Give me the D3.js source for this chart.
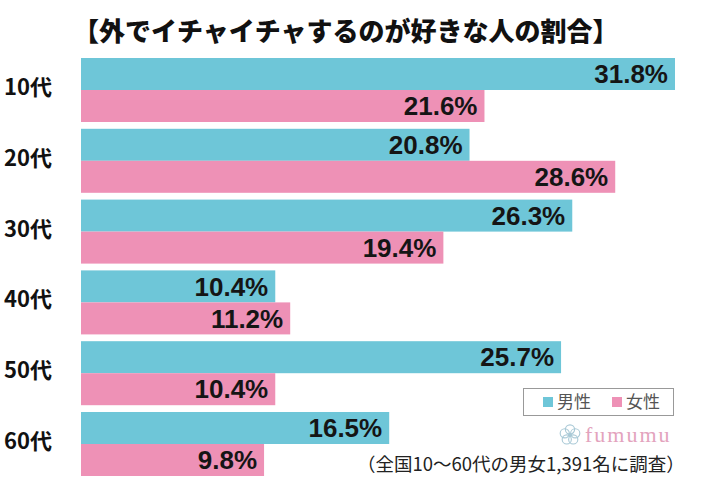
<!DOCTYPE html>
<html><head><meta charset="utf-8">
<script src="https://cdn.jsdelivr.net/npm/d3@7"></script>
<style>html,body{margin:0;padding:0;background:#fff;}svg{display:block;}</style>
</head><body>
<script>
const categories = ["10代","20代","30代","40代","50代","60代"];
const male = [31.8, 20.8, 26.3, 10.4, 25.7, 16.5];
const female = [21.6, 28.6, 19.4, 11.2, 10.4, 9.8];
const seriesNames = ["男性","女性"];
const title = "【外でイチャイチャするのが好きな人の割合】";
const note = "（全国10〜60代の男女1,391名に調査）";
const colors = ["#6EC6D8", "#EE91B6"];

const W = 701, H = 500;
const svg = d3.select("body").append("svg").attr("width", W).attr("height", H);

const x = d3.scaleLinear().domain([0, 31.8]).range([81, 675]);
const y = d3.scaleBand().domain(categories).range([54.6, 479.4]).paddingInner(0.096).paddingOuter(0.048);
const sub = d3.scaleBand().domain(seriesNames).range([0, y.bandwidth()]);

const jp = "'Noto Sans CJK JP','Noto Sans CJK SC',sans-serif";

svg.append("text").attr("x", 73).attr("y", 41)
  .attr("font-family", jp).attr("font-weight", 900).attr("font-size", 26)
  .attr("fill", "#111").text(title);

const rows = categories.map((c, i) => ({c, vals: [male[i], female[i]]}));
const g = svg.selectAll("g.row").data(rows).join("g").attr("class", "row")
  .attr("transform", d => `translate(0,${y(d.c)})`);

g.selectAll("rect").data(d => d.vals.map((v, j) => ({v, s: seriesNames[j], j})))
  .join("rect")
  .attr("x", x(0)).attr("y", d => sub(d.s))
  .attr("width", d => x(d.v) - x(0)).attr("height", sub.bandwidth())
  .attr("fill", d => colors[d.j]);

g.selectAll("text.val").data(d => d.vals.map((v, j) => ({v, s: seriesNames[j], j})))
  .join("text").attr("class", "val")
  .attr("x", d => x(d.v) - 7)
  .attr("y", d => sub(d.s) + sub.bandwidth() / 2 + 9.3)
  .attr("text-anchor", "end")
  .attr("font-family", "'Liberation Sans',Arial,sans-serif")
  .attr("font-weight", "bold").attr("font-size", 26)
  .attr("fill", "#151515")
  .text(d => d.v.toFixed(1) + "%");

g.append("text").attr("x", 4).attr("y", y.bandwidth() / 2 - 3 + 8)
  .attr("font-family", jp).attr("font-weight", "bold").attr("font-size", 22)
  .attr("fill", "#111").text(d => d.c);

// legend
const lg = svg.append("g");
lg.append("rect").attr("x", 523.5).attr("y", 388.5).attr("width", 150).attr("height", 27)
  .attr("fill", "#fff").attr("stroke", "#999").attr("stroke-width", 1);
const legX = [543, 612];
seriesNames.forEach((s, j) => {
  lg.append("rect").attr("x", legX[j]).attr("y", 397).attr("width", 10).attr("height", 10).attr("fill", colors[j]);
  lg.append("text").attr("x", legX[j] + 14).attr("y", 408)
    .attr("font-family", jp).attr("font-size", 17).attr("fill", "#555").text(s);
});

// fumumu logo
const logo = svg.append("g").attr("transform", "translate(570,435)");
const petals = d3.range(5).map(k => {
  const a = -Math.PI / 2 + k * 2 * Math.PI / 5;
  return [Math.cos(a) * 5.5, Math.sin(a) * 5.5];
});
logo.selectAll("circle").data(petals).join("circle")
  .attr("cx", d => d[0]).attr("cy", d => d[1]).attr("r", 4.6)
  .attr("fill", "none").attr("stroke", "#a9c9d6").attr("stroke-width", 1.1);
logo.append("circle").attr("r", 2).attr("fill", "#a9c9d6");
svg.append("text").attr("x", 585).attr("y", 442)
  .attr("font-family", "'Liberation Serif','DejaVu Serif',serif").attr("font-size", 22)
  .attr("letter-spacing", 2).attr("fill", "#E3A3BD").text("fumumu");

svg.append("text").attr("x", 357).attr("y", 471)
  .attr("font-family", jp).attr("font-size", 18.5).attr("fill", "#222").text(note);
</script>
</body></html>
